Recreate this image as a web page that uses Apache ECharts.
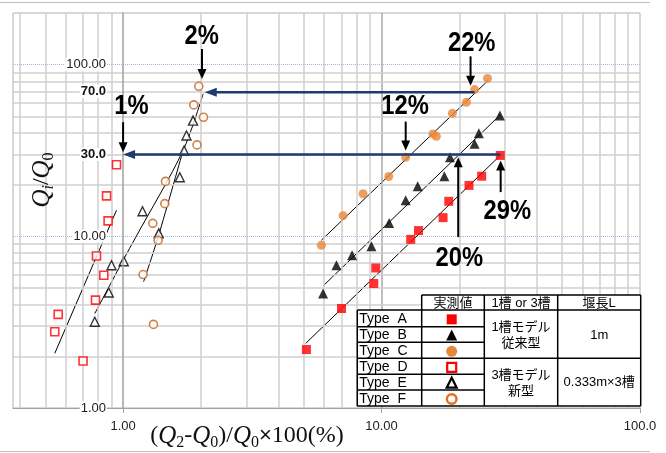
<!DOCTYPE html>
<html><head><meta charset="utf-8">
<script src="https://cdn.jsdelivr.net/npm/echarts@6/dist/echarts.min.js"></script>
<style>html,body{margin:0;padding:0;background:#fff}#c{width:666px;height:453px}</style>
</head><body><div id="c"></div>
<script>
// ---- data (x = (Q2-Q0)/Q0*100 %, y = Qi/Q0) ----
const typeA = [[5.12,2.19],[7.0,3.80],[9.33,5.31],[9.5,6.54],[12.97,9.6],[13.9,10.8],[17.3,12.85],[18.2,16.0],[21.8,19.8],[24.4,22.4],[28.8,29.6]];
const typeB = [[5.94,4.64],[6.69,6.78],[7.69,7.75],[9.14,8.75],[10.7,11.95],[12.4,16.2],[13.8,19.6],[17.5,22.4],[18.4,28.9],[22.9,34.6],[23.8,39.9],[28.7,50.5]];
const typeC = [[5.85,8.86],[7.10,13.2],[8.48,17.7],[10.66,22.3],[12.4,28.9],[15.8,39.5],[16.3,38.3],[18.8,52.1],[21.3,60.4],[22.9,71.6],[25.7,83.2]];
const typeD = [[0.943,26.1],[0.863,17.2],[0.875,12.3],[0.789,7.68],[0.842,5.93],[0.782,4.25],[0.561,3.51],[0.544,2.78],[0.70,1.88]];
const typeE = [[0.777,3.18],[0.88,4.71],[0.902,6.78],[1.006,7.16],[1.189,14.0],[1.374,10.4],[1.657,22.1],[1.722,31.6],[1.759,38.7],[1.865,47.2]];
const typeF = [[1.963,74.8],[1.877,58.3],[2.047,49.4],[1.932,34.1],[1.459,20.9],[1.45,15.5],[1.303,11.9],[1.366,9.48],[1.195,5.99],[1.311,3.07]];
// trend lines
const trendA = [[5.09,2.38],[28.8,29.6]];
const trendB = [[5.94,5.14],[28.8,51.0]];
const trendC = [[5.85,9.49],[25.8,80.7]];
const trendD = [[0.544,2.08],[0.943,14.2]];
const trendE = [[0.777,3.55],[1.0,7.25],[1.12,9.9],[1.706,31.6],[2.04,67.6]];
const trendF = [[1.20,5.43],[1.366,9.9],[1.706,31.6]];
// axis / grid values
const xLabelMap = [[1,'1.00'],[10,'10.00'],[100,'100.0']];
const yLabelMap = [[1,'1.00'],[10,'10.00'],[30,'30.0'],[70,'70.0'],[100,'100.00']];
const yBoldLabels = [30,70];
const vMinor = [0.4,0.5,0.6,0.7,0.8,0.9,2,3,4,5,6,7,8,9,20,30,40,50,60,70,80,90];
const vMajor = [10];
const hMinor = [2,3,4,5,6,7,8,9,20,30,40,50,60,70,80,90];
const hMajor = [10,100];
// annotations: [label, start, tip]
const blackArrows = [
  ['1%',  [1.0,46.2],  [1.0,30.9]],
  ['2%',  [2.02,123.4],[2.02,82.6]],
  ['12%', [12.4,46.6], [12.4,31.6]],
  ['22%', [22.1,111.8],[22.1,75.5]],
  ['29%', [28.9,18.1], [28.9,27.7]],
  ['20%', [19.8,9.9],  [19.8,28.9]]
];
const blueArrows = [
  [[28.8,30],[1.0,30]],
  [[22.9,69],[2.07,69]]
];
const pctLabels = [['1%',131.5,106.7],['2%',201.7,36.7],['12%',405,106.7],['22%',471.7,43.3],['29%',507.3,211.7],['20%',459.3,258.3]];

function lookup(map, v){for(const [k,s] of map){ if(Math.abs(v-k)/k < 1e-3) return s; } return '';}

const chart = echarts.init(document.getElementById('c'), null, {renderer:'canvas'});

const gridLines = [];
vMinor.forEach(v=>gridLines.push({xAxis:v, lineStyle:{color:'#cfcfcf', width:1.5, type:'solid'}}));
vMajor.forEach(v=>gridLines.push({xAxis:v, lineStyle:{color:'#a8a8a8', width:1.5, type:'solid'}}));
hMinor.forEach(v=>gridLines.push({yAxis:v, lineStyle:{color:'#cfcfcf', width:1.5, type:'solid'}}));
hMajor.forEach(v=>gridLines.push({yAxis:v, lineStyle:{color:'#9dbbe3', width:1, type:'dotted'}}));

function scatter(name, data, symbol, size, style){
  return {name, type:'scatter', data, symbol, symbolSize:size, itemStyle:style, z:5, silent:true};
}
function trend(data, smooth){
  return {type:'line', data, showSymbol:false, symbol:'none', smooth: smooth||false, lineStyle:{color:'#000', width:1}, z:4, silent:true};
}

const option = {
  animation:false,
  grid:{left:13, right:26, top:13, bottom:45, show:true, borderColor:'#b0b0b0', borderWidth:1},
  xAxis:{type:'log', logBase:10, min:0.375, max:100, z:10,
    axisLine:{show:true, lineStyle:{color:'#a0a0a0', width:1}},
    axisTick:{show:true, customValues:[1,10,100], length:5, lineStyle:{color:'#a0a0a0'}},
    axisLabel:{customValues:[1,10,100], formatter:v=>lookup(xLabelMap,v), color:'#222', fontSize:13, fontFamily:'Liberation Sans', margin:12},
    splitLine:{show:false}},
  yAxis:{type:'log', logBase:10, min:1, max:200, offset:-110, z:10,
    axisLine:{show:true, lineStyle:{color:'#a0a0a0', width:1.5}},
    axisTick:{show:false},
    axisLabel:{customValues:[1,10,30,70,100], margin:16, color:'#222', fontSize:13, fontFamily:'Liberation Sans',
      backgroundColor:'#fff', padding:[0,1,0,1],
      formatter:v=>{const s=lookup(yLabelMap,v); if(!s) return ''; return yBoldLabels.some(b=>Math.abs(v-b)/b<1e-3)? '{b|'+s+'}' : s;},
      rich:{b:{fontWeight:'bold', fontSize:13, color:'#111', fontFamily:'Liberation Sans', backgroundColor:'#fff'}}},
    splitLine:{show:false}},
  series:[
    {type:'scatter', data:[], z:1, silent:true,
      markLine:{silent:true, symbol:['none','none'], label:{show:false}, animation:false, data:gridLines}},
    trend(trendA), trend(trendB), trend(trendC), trend(trendD), trend(trendE, 0.3), trend(trendF, 0.3),
    scatter('Type A', typeA, 'rect', 9, {color:'#ff0000'}),
    scatter('Type B', typeB, 'triangle', 10, {color:'#000000'}),
    scatter('Type C', typeC, 'circle', 9, {color:'#e8873a'}),
    scatter('Type D', typeD, 'rect', 8, {color:'#ffffff', borderColor:'#ff0000', borderWidth:1.6}),
    scatter('Type E', typeE, 'triangle', 9, {color:'#ffffff', borderColor:'#000000', borderWidth:1.4}),
    scatter('Type F', typeF, 'circle', 8, {color:'#ffffff', borderColor:'#c2641e', borderWidth:1.6})
  ]
};
chart.setOption(option);

// ---------- graphics (annotations, table, titles) ----------
const G = [];
function px(p){return chart.convertToPixel({gridIndex:0}, p);}
function arrow(p0, p1, color, lw, hl, hw){
  const a = px(p0), b = px(p1);
  const dx=b[0]-a[0], dy=b[1]-a[1], L=Math.hypot(dx,dy), ux=dx/L, uy=dy/L;
  const bx=b[0]-ux*hl, by=b[1]-uy*hl;
  G.push({type:'line', z:50, shape:{x1:a[0],y1:a[1],x2:bx+ux*1,y2:by+uy*1}, style:{stroke:color, lineWidth:lw}});
  G.push({type:'polygon', z:50, shape:{points:[[b[0],b[1]],[bx-uy*hw/2,by+ux*hw/2],[bx+uy*hw/2,by-ux*hw/2]]}, style:{fill:color}});
}
blueArrows.forEach(a=>arrow(a[0], a[1], '#1f3a6e', 2.5, 12, 9));
blackArrows.forEach(a=>arrow(a[1], a[2], '#000', 2, 10, 9));
pctLabels.forEach(t=>G.push({type:'text', z:60, x:t[1], y:t[2], scaleX:0.88,
  style:{text:t[0], font:'bold 27px "Liberation Sans"', fill:'#000', align:'center', verticalAlign:'middle', textAlign:'center', textVerticalAlign:'middle'}}));

// outer frame lines
G.push({type:'line', z:1, shape:{x1:0,y1:2.5,x2:650,y2:2.5}, style:{stroke:'#c0c0c0', lineWidth:1}});
G.push({type:'line', z:1, shape:{x1:0,y1:451.5,x2:650,y2:451.5}, style:{stroke:'#c0c0c0', lineWidth:1}});

// axis titles
const richT = {
  n:{fontFamily:'Liberation Serif', fontSize:24, lineHeight:30, verticalAlign:'middle', fill:'#111', color:'#111'},
  q:{fontFamily:'Liberation Serif', fontStyle:'italic', fontSize:25, lineHeight:30, verticalAlign:'middle', fill:'#111', color:'#111'},
  s:{fontFamily:'Liberation Serif', fontSize:16, lineHeight:16, verticalAlign:'bottom', fill:'#111', color:'#111'},
  si:{fontFamily:'Liberation Serif', fontStyle:'italic', fontSize:16, lineHeight:16, verticalAlign:'bottom', fill:'#111', color:'#111'},
  x:{fontFamily:'Liberation Sans', fontSize:22, lineHeight:30, verticalAlign:'middle', fill:'#111', color:'#111'}
};
G.push({type:'text', z:60, x:247, y:436, style:{text:'{n|(}{q|Q}{s|2}{n|-}{q|Q}{s|0}{n|)/}{q|Q}{s|0}{x|×}{n|100(%)}', rich:richT,
  align:'center', verticalAlign:'middle', textAlign:'center', textVerticalAlign:'middle'}});
G.push({type:'text', z:60, x:42, y:180, rotation:Math.PI/2, style:{text:'{q|Q}{si|i}{n|/}{q|Q}{s|0}', rich:richT,
  align:'center', verticalAlign:'middle', textAlign:'center', textVerticalAlign:'middle'}});

// legend table
const X = [357.3, 421.7, 484.3, 557.7, 640.7];
const H0 = 295, R = [310, 326.7, 342.3, 358.3, 374.3, 390, 406];
G.push({type:'rect', z:70, shape:{x:X[1], y:H0, width:X[4]-X[1], height:R[0]-H0}, style:{fill:'#fff'}});
G.push({type:'rect', z:70, shape:{x:X[0], y:R[0], width:X[4]-X[0], height:R[6]-R[0]}, style:{fill:'#fff'}});
function ln(x1,y1,x2,y2){G.push({type:'line', z:72, shape:{x1,y1,x2,y2}, style:{stroke:'#000', lineWidth:1.5}});}
ln(X[1],H0,X[4],H0); ln(X[0],R[0],X[4],R[0]);
[1,2,4,5].forEach(i=>ln(X[0],R[i],X[2],R[i]));
ln(X[0],R[3],X[4],R[3]); ln(X[0],R[6],X[4],R[6]);
ln(X[0],R[0],X[0],R[6]); [1,2,3,4].forEach(i=>ln(X[i],H0,X[i],R[6]));
function txt(s,x,y,align,size){G.push({type:'text', z:75, x, y, style:{text:s, font:(size||13)+'px "Liberation Sans","Noto Sans CJK JP"', fill:'#000', align:align||'center', verticalAlign:'middle', textAlign:align||'center', textVerticalAlign:'middle'}});}
txt('実測値', (X[1]+X[2])/2, (H0+R[0])/2+0.5);
txt('1槽 or 3槽', (X[2]+X[3])/2, (H0+R[0])/2+0.5);
txt('堰長L', (X[3]+X[4])/2, (H0+R[0])/2+0.5);
const rowNames = ['Type  A','Type  B','Type  C','Type  D','Type  E','Type  F'];
rowNames.forEach((n,i)=>txt(n, X[0]+2, (R[i]+R[i+1])/2+1, 'left', 14));
txt('1槽モデル', (X[2]+X[3])/2, 327.5); txt('従来型', (X[2]+X[3])/2, 343.5);
txt('1m', (X[3]+X[4])/2, 335);
txt('3槽モデル', (X[2]+X[3])/2, 375.5); txt('新型', (X[2]+X[3])/2, 391);
txt('0.333m×3槽', (X[3]+X[4])/2, 382.5);
const mx = 451.7, my = i=>(R[i]+R[i+1])/2+1;
G.push({type:'rect', z:75, shape:{x:mx-5,y:my(0)-5,width:10,height:10}, style:{fill:'#ff0000'}});
G.push({type:'polygon', z:75, shape:{points:[[mx,my(1)-6],[mx+5.5,my(1)+5],[mx-5.5,my(1)+5]]}, style:{fill:'#000'}});
G.push({type:'circle', z:75, shape:{cx:mx,cy:my(2),r:5.5}, style:{fill:'#e8873a'}});
G.push({type:'rect', z:75, shape:{x:mx-4.5,y:my(3)-4.5,width:9,height:9}, style:{fill:'#fff', stroke:'#ff0000', lineWidth:2.2}});
G.push({type:'polygon', z:75, shape:{points:[[mx,my(4)-5.5],[mx+5,my(4)+4.5],[mx-5,my(4)+4.5]]}, style:{fill:'#fff', stroke:'#000', lineWidth:2.2}});
G.push({type:'circle', z:75, shape:{cx:mx,cy:my(5),r:4.8}, style:{fill:'#fff', stroke:'#e07020', lineWidth:2.4}});

chart.setOption({graphic:{elements:G}});
</script></body></html>
